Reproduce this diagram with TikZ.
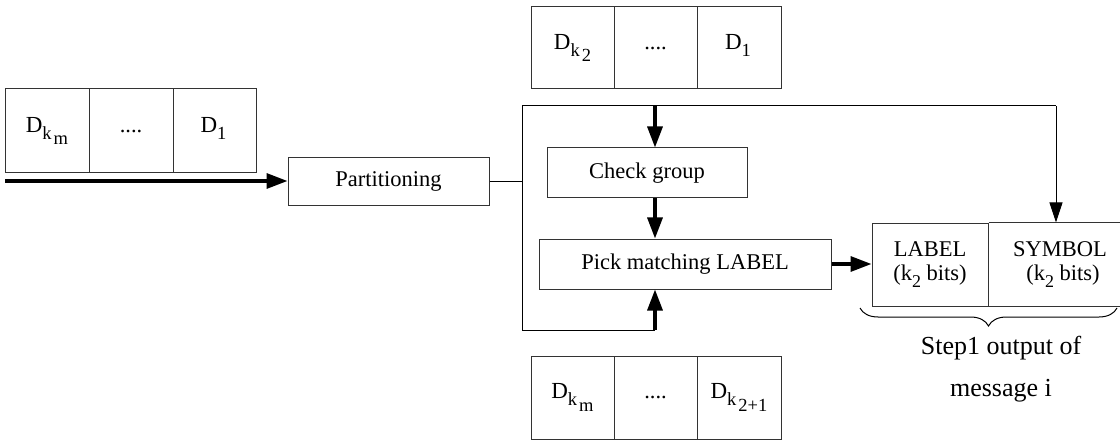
\documentclass[tikz,border=0pt]{standalone}
\usepackage{fontspec}
\setmainfont{Liberation Serif}
\usetikzlibrary{arrows.meta,decorations.pathreplacing}
\newcommand\Dsub[2]{{\fontsize{23}{25}\selectfont D}\raisebox{-0.32em}{\fontsize{18.5}{18}\selectfont #1\hspace{2pt}\raisebox{-0.3em}{#2}}}
\newcommand\ksub{k\raisebox{-0.3em}{\fontsize{18}{18}\selectfont 2}}
\begin{document}
\begin{tikzpicture}[x=1pt,y=-1pt,
  font=\fontsize{22.5}{26}\selectfont,
  cell/.style={draw=black!80, line width=1pt, inner sep=0pt, minimum width=83pt},
  proc/.style={draw=black!80, line width=1pt, inner sep=0pt, minimum height=50pt},
  thin/.style={line width=1pt},
  thick arrow/.style={line width=3.3pt, -{Triangle[length=21pt,width=15pt]}},
  thin arrow/.style={line width=1pt, -{Triangle[length=20pt,width=13pt]}}]
\useasboundingbox (0,0) rectangle (1120,441);

% input buffer (left)
\node[cell, minimum height=84pt, minimum width=84pt] (l1) at (47,131) {\Dsub{k}{m}};
\node[cell, minimum height=84pt, minimum width=84pt] (l2) at (131,131) {....};
\node[cell, minimum height=84pt, minimum width=83pt] (l3) at (214.5,131) {\Dsub{1}{}};

% top buffer
\node[cell, minimum height=82pt] (t1) at (572.5,48) {\Dsub{k}{2}};
\node[cell, minimum height=82pt] (t2) at (655.5,48) {....};
\node[cell, minimum height=82pt, minimum width=84pt] (t3) at (739,48) {\Dsub{1}{}};

% bottom buffer
\node[cell, minimum height=83pt] (b1) at (572.5,397.5) {\Dsub{k}{m}};
\node[cell, minimum height=83pt] (b2) at (655.5,397.5) {....};
\node[cell, minimum height=83pt, minimum width=84pt] (b3) at (739,397.5) {\Dsub{k}{2+1}};

% process boxes
\node[proc, minimum width=201pt, minimum height=48pt] (part) at (388.5,181.5) {Partitioning};
\node[proc, minimum width=200pt] (check) at (647,173) {Check group};
\node[proc, minimum width=292pt] (pick) at (685,264) {Pick matching LABEL};

% output
\node[cell, minimum width=116pt, minimum height=83pt, align=center] (lab) at (930,264.5)
  {LABEL\\[-2pt](\ksub\ bits)};
\node[inner sep=0pt, minimum width=144pt, minimum height=83pt, align=center] (sym) at (1060,264.5)
  {SYMBOL\\[-2pt]\hspace{6pt}(\ksub\ bits)};
\coordinate (edge) at (1125,0);
\draw[draw=black!80, line width=1pt] (lab.north east) -- (edge |- lab.north);
\draw[draw=black!80, line width=1pt] (lab.south east) -- (edge |- lab.south);

% frame coordinates
\coordinate (tl) at (522,106);
\coordinate (tr) at (1056,106);
\coordinate (ta) at (655,106);
\coordinate (bl) at (522,330);
\coordinate (ba) at (655,330);
\coordinate (pl) at (522,182);

% input arrow
\coordinate (in) at (5,181);
\draw[thick arrow] (in) -- (in -| part.west);

% frame
\draw[thin] (part.east |- pl) -- (pl);
\draw[thin] (tl) -- (bl) -- (ba);
\draw[thin] (tl) -- (tr);
\draw[thin arrow] (tr) -- (tr |- lab.north);
\draw[thick arrow] (ta) -- (ta |- check.north);
\draw[thick arrow] (check.south -| ta) -- (pick.north -| ta);
\draw[thick arrow] (ba) -- (pick.south -| ba);
\draw[thick arrow] (pick.east) -- (lab.west |- pick.east);

% brace
\coordinate (br1) at (860,308);
\coordinate (br2) at (1117,308);
\draw[line width=1pt, decorate, decoration={brace, mirror, amplitude=18pt}] (br1) -- (br2);
\node[font=\fontsize{26}{42}\selectfont, align=center] (cap) at (1001,369) {Step1 output of\\message i};
\end{tikzpicture}
\end{document}
